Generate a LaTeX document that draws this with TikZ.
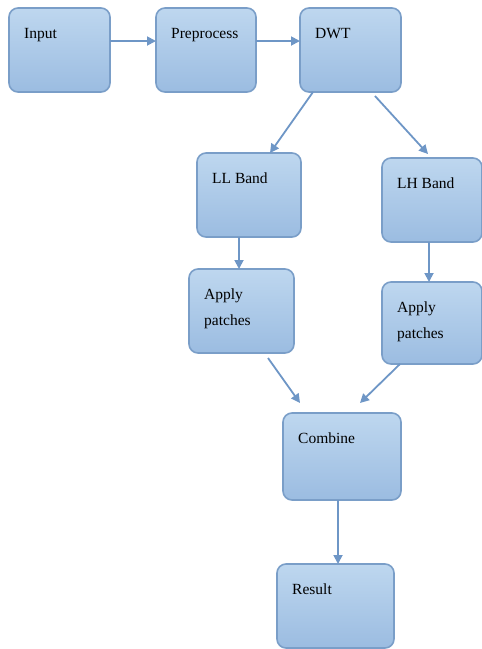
\documentclass[tikz,border=0pt]{standalone}
\usepackage{fontspec}
\setmainfont{Liberation Serif}
\usetikzlibrary{arrows.meta,positioning}
\definecolor{boxtop}{RGB}{190,215,239}
\definecolor{boxbottom}{RGB}{155,188,225}
\definecolor{boxline}{RGB}{122,158,200}
\definecolor{arrowblue}{RGB}{110,150,198}

\begin{document}
\begin{tikzpicture}[
    box/.style={draw=boxline,line width=1.6pt,rounded corners=9pt,top color=boxtop,bottom color=boxbottom,minimum height=84pt,inner sep=0pt,outer sep=0pt},
    lbl/.style={anchor=north west,inner sep=0pt,xshift=15pt,yshift=-20pt,align=left,font=\fontsize{15.5}{26}\selectfont},
    arrow/.style={-{Triangle[length=9pt,width=9pt]},line width=1.8pt,draw=arrowblue}
  ]
    \useasboundingbox (0,0) rectangle (482pt,-649pt);

    \node[box,minimum width=101pt,label={[lbl]north west:Input}] (input) at (59.5pt,-50pt) {};
    \node[box,right=46pt of input,minimum width=100pt,label={[lbl]north west:Preprocess}] (prep) {};
    \node[box,right=44pt of prep,minimum width=101pt,label={[lbl]north west:DWT}] (dwt) {};
    \node[box,below=61pt of dwt,xshift=-101.5pt,minimum width=104pt,label={[lbl]north west:LL Band}] (llband) {};
    \node[box,below=66pt of dwt,xshift=81.5pt,minimum width=100pt,label={[lbl]north west:LH Band}] (lhband) {};
    \node[box,below=32pt of llband,xshift=-7.5pt,minimum width=105pt,label={[lbl]north west:Apply\\patches}] (patchll) {};
    \node[box,below=40pt of lhband,minimum width=100pt,minimum height=82pt,label={[lbl]north west:Apply\\patches}] (patchlh) {};
    \node[box,below=60pt of patchll,xshift=100.5pt,minimum width=118pt,minimum height=87pt,label={[lbl]north west:Combine}] (combine) {};
    \node[box,below=64pt of combine,xshift=-6.5pt,minimum width=117pt,label={[lbl]north west:Result}] (result) {};

    \draw[arrow] ([yshift=9pt]input.east) -- ([yshift=9pt]prep.west);
    \draw[arrow] ([yshift=9pt]prep.east) -- ([yshift=9pt]dwt.west);
    \draw[arrow] ([xshift=13pt]dwt.south west) -- ([xshift=73pt]llband.north west);
    \draw[arrow] ([xshift=75pt,yshift=-4pt]dwt.south west) -- ([xshift=46pt,yshift=4pt]lhband.north west);
    \draw[arrow] ([xshift=-10pt]llband.south) -- ([xshift=-10pt]llband.south |- patchll.north);
    \draw[arrow] ([xshift=-3pt]lhband.south) -- ([xshift=-3pt]lhband.south |- patchlh.north);
    \draw[arrow] ([xshift=79pt,yshift=-5pt]patchll.south west) -- ([xshift=17pt,yshift=10pt]combine.north west);
    \draw[arrow] ([xshift=18pt]patchlh.south west) -- ([xshift=77pt,yshift=10pt]combine.north west);
    \draw[arrow] ([xshift=-4pt]combine.south) -- ([xshift=-4pt]combine.south |- result.north);
\end{tikzpicture}
\end{document}
